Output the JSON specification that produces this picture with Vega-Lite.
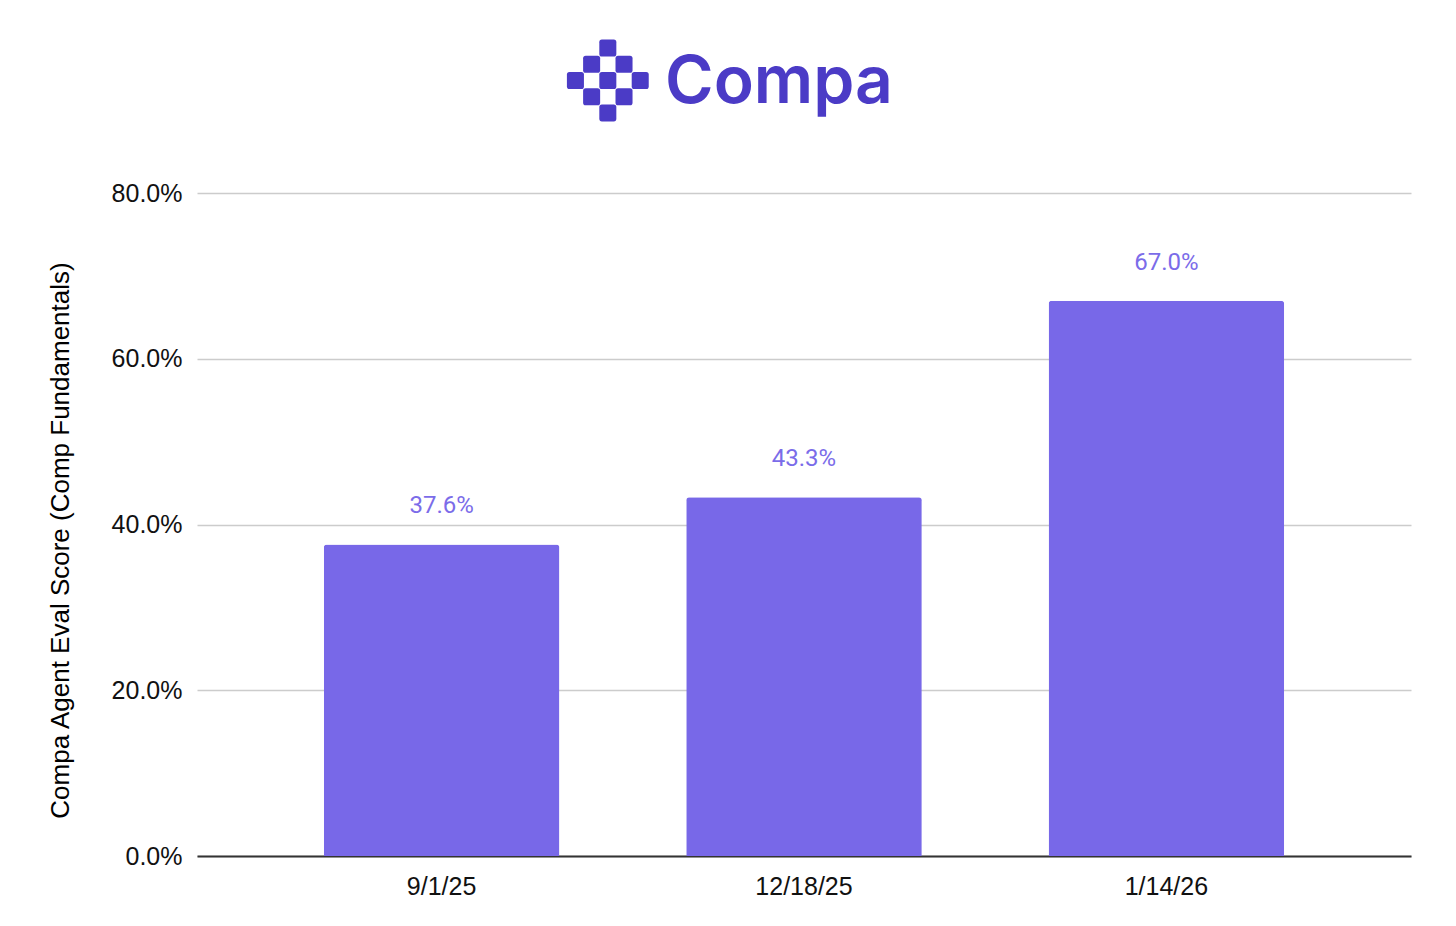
{
  "$schema": "https://vega.github.io/schema/vega-lite/v6.json",
  "background": "white",
  "padding": {"top": 39, "left": 47, "right": 45, "bottom": 20},
  "config": {
    "font": "Liberation Sans",
    "view": {"stroke": null},
    "axis": {"labelFont": "Liberation Sans", "titleFont": "Liberation Sans"}
  },
  "bounds": "flush",
  "spacing": 72,
  "vconcat": [
    {
      "width": 1214,
      "height": 81,
      "layer": [
        {
          "data": {
            "values": [
              {"col": 2, "row": 0},
              {"col": 1, "row": 1},
              {"col": 3, "row": 1},
              {"col": 0, "row": 2},
              {"col": 2, "row": 2},
              {"col": 4, "row": 2},
              {"col": 1, "row": 3},
              {"col": 3, "row": 3},
              {"col": 2, "row": 4}
            ]
          },
          "mark": {
            "type": "point",
            "shape": "M-0.7,-1 L0.7,-1 Q1,-1 1,-0.7 L1,0.7 Q1,1 0.7,1 L-0.7,1 Q-1,1 -1,0.7 L-1,-0.7 Q-1,-1 -0.7,-1 Z",
            "filled": true,
            "size": 290,
            "opacity": 1,
            "color": "#4b3bc6",
            "strokeWidth": 0
          },
          "encoding": {
            "x": {"field": "col", "type": "quantitative", "scale": {"domain": [-23.36, 51.58], "nice": false, "zero": false}, "axis": null},
            "y": {"field": "row", "type": "quantitative", "scale": {"domain": [-0.5, 4.5], "reverse": true, "nice": false, "zero": false}, "axis": null}
          }
        },
        {
          "data": {"values": [{"name": "Compa", "col": 5.53, "row": 3.38}]},
          "mark": {"type": "text", "font": "Inter", "fontWeight": 600, "fontSize": 66, "align": "left", "baseline": "alphabetic", "color": "#4b3bc6"},
          "encoding": {
            "x": {"field": "col", "type": "quantitative"},
            "y": {"field": "row", "type": "quantitative"},
            "text": {"field": "name"}
          }
        }
      ]
    },
    {
      "width": 1214,
      "height": 663,
      "data": {
        "values": [
          {"date": "9/1/25", "score": 0.376},
          {"date": "12/18/25", "score": 0.433},
          {"date": "1/14/26", "score": 0.67}
        ]
      },
      "encoding": {
        "x": {
          "field": "date",
          "type": "nominal",
          "sort": null,
          "title": null,
          "scale": {"paddingInner": 0.35, "paddingOuter": 0.35},
          "axis": {"labelAngle": 0, "labelFontSize": 25, "labelColor": "#111111", "labelPadding": 18, "ticks": false, "domainColor": "#333333", "domainWidth": 2, "grid": false}
        },
        "y": {
          "field": "score",
          "type": "quantitative",
          "title": "Compa Agent Eval Score (Comp Fundamentals)",
          "scale": {"domain": [0, 0.8], "nice": false},
          "axis": {
            "values": [0, 0.2, 0.4, 0.6, 0.8],
            "format": ".1%",
            "labelFontSize": 25,
            "labelColor": "#111111",
            "labelPadding": 15,
            "ticks": false,
            "domain": false,
            "gridColor": "#cccccc",
            "gridWidth": 1.5,
            "titleFontSize": 26,
            "titleFontWeight": "normal",
            "titleColor": "#000000",
            "titlePadding": 38,
            "titleY": 347
          }
        }
      },
      "layer": [
        {
          "mark": {"type": "bar", "color": "#7868e8", "cornerRadiusTopLeft": 3, "cornerRadiusTopRight": 3}
        },
        {
          "mark": {"type": "text", "font": "Roboto", "fontSize": 24, "color": "#7b6ce9", "baseline": "alphabetic", "dy": -31},
          "encoding": {
            "text": {"field": "score", "type": "quantitative", "format": ".1%"}
          }
        }
      ]
    }
  ]
}
